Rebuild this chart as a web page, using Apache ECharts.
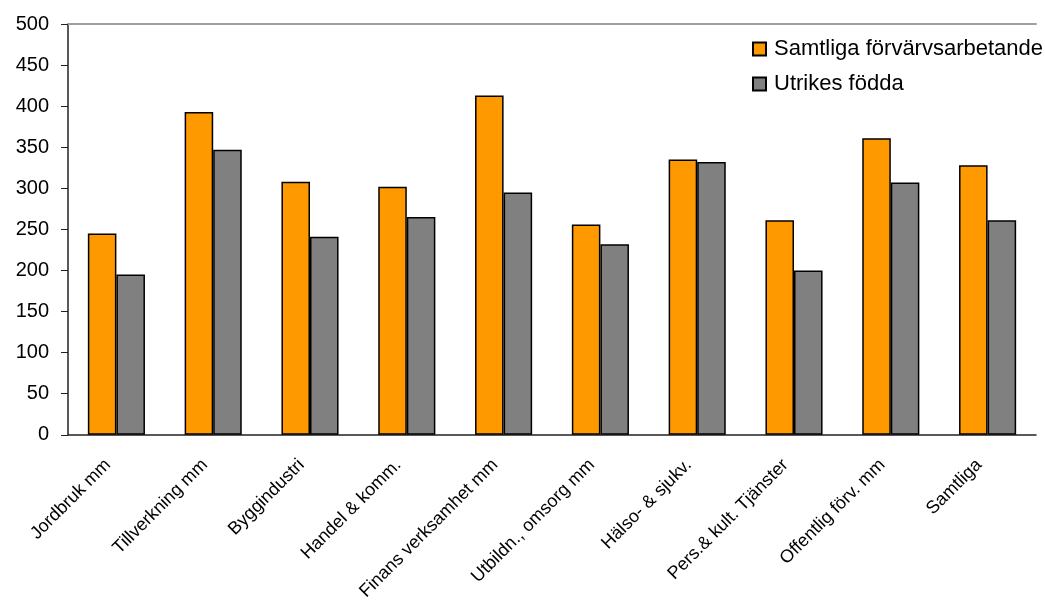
<!DOCTYPE html>
<html>
<head>
<meta charset="utf-8">
<script src="https://cdn.jsdelivr.net/npm/echarts@6/dist/echarts.min.js"></script>
<style>
html,body{margin:0;padding:0;background:#fff;}
#chart{width:1045px;height:603px;}
</style>
</head>
<body>
<div id="chart"></div>
<script>
const categories = ["Jordbruk mm","Tillverkning mm","Byggindustri","Handel & komm.","Finans verksamhet mm","Utbildn., omsorg mm","Hälso- & sjukv.","Pers.& kult. Tjänster","Offentlig förv. mm","Samtliga"];
const samtliga = [245, 393, 308, 302, 413, 256, 335, 261, 361, 328];
const utrikes = [195, 347, 241, 265, 295, 232, 332, 200, 307, 261];
const yTicks = [0, 50, 100, 150, 200, 250, 300, 350, 400, 450, 500];

const font = "'Liberation Sans', Arial, sans-serif";
const chart = echarts.init(document.getElementById('chart'));
chart.setOption({
  animation: false,
  backgroundColor: '#fff',
  textStyle: { fontFamily: font },
  legend: {
    orient: 'vertical',
    left: 747,
    top: 33,
    itemWidth: 13,
    itemHeight: 13,
    itemGap: 13,
    icon: 'rect',
    textStyle: { fontSize: 22, color: '#000', fontFamily: font, padding: [0,0,0,3] },
    data: ['Samtliga förvärvsarbetande', 'Utrikes födda']
  },
  grid: { left: 68, right: 9, top: 24, bottom: 168 },
  xAxis: [{
    type: 'category',
    data: categories,
    axisLine: { lineStyle: { color: '#222', width: 1.5 } },
    axisTick: { length: 5, lineStyle: { color: '#222' } },
    axisLabel: { rotate: 45, fontSize: 18, color: '#000', margin: 19, padding: [0, 12, 0, 0], interval: 0, fontFamily: font }
  }, {
    type: 'category',
    position: 'top',
    data: categories,
    axisLine: { show: true, lineStyle: { color: '#a0a0a0', width: 2 } },
    axisTick: { show: false },
    axisLabel: { show: false }
  }],
  yAxis: {
    type: 'value',
    min: yTicks[0],
    max: yTicks[yTicks.length - 1],
    interval: 50,
    axisLine: { show: true, lineStyle: { color: '#222', width: 1.5 } },
    axisTick: { show: true, length: 7, lineStyle: { color: '#222' } },
    splitLine: { show: false },
    axisLabel: { fontSize: 20, color: '#000', margin: 19, fontFamily: font }
  },
  series: [{
    name: 'Samtliga förvärvsarbetande',
    type: 'bar',
    data: samtliga,
    barGap: '0%',
    barCategoryGap: '41%',
    itemStyle: { color: '#ff9900', borderColor: '#000', borderWidth: 1.5 }
  }, {
    name: 'Utrikes födda',
    type: 'bar',
    data: utrikes,
    itemStyle: { color: '#808080', borderColor: '#000', borderWidth: 1.5 }
  }]
});
</script>
</body>
</html>
